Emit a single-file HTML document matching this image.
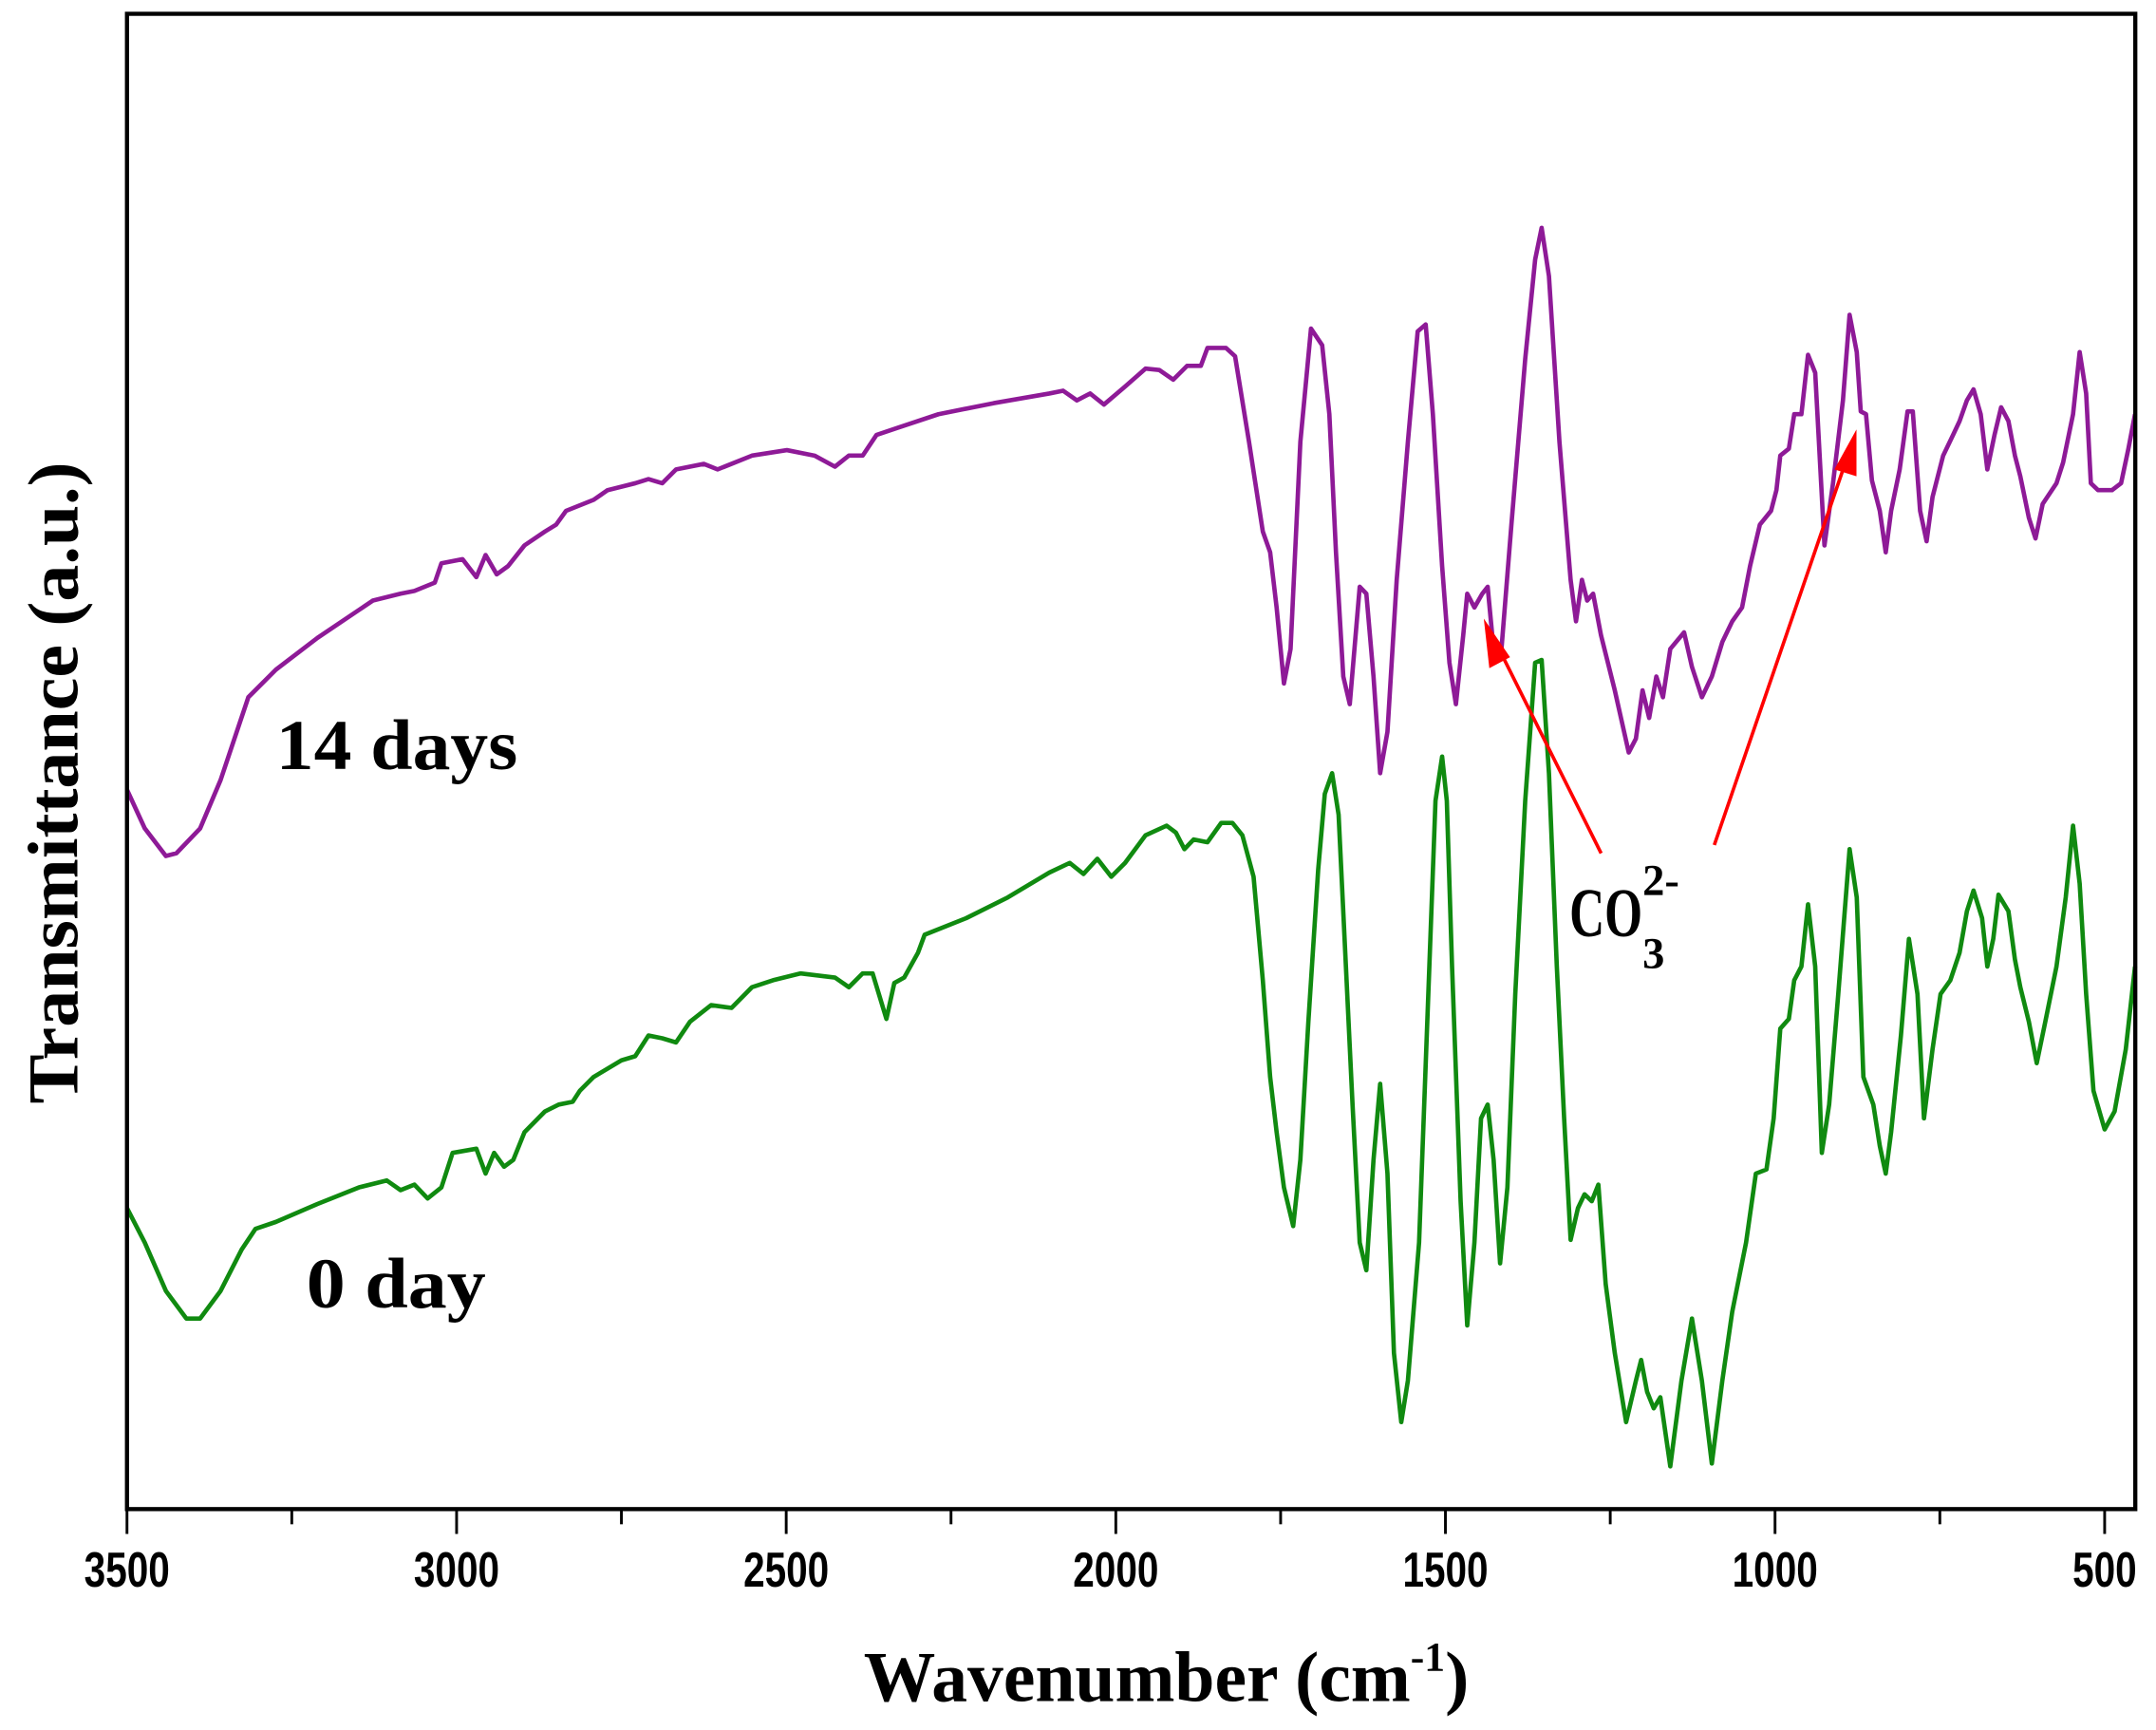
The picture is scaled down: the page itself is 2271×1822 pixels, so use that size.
<!DOCTYPE html>
<html><head><meta charset="utf-8"><style>
html,body{margin:0;padding:0;background:#fff;}
svg{display:block;}
</style></head><body>
<svg id="chart" xmlns="http://www.w3.org/2000/svg" width="2271" height="1822" viewBox="0 0 1562 1253" preserveAspectRatio="none">
<rect x="0" y="0" width="1562" height="1253" fill="#fff"/>
<g id="plot"></g>
<rect x="92" y="10" width="1455" height="1083" fill="none" stroke="#000" stroke-width="3"/>
<g id="xaxis"></g>
<text x="845" y="1232" text-anchor="middle" font-family="Liberation Serif, serif" font-weight="bold" font-size="52">Wavenumber (cm<tspan dy="-22" font-size="30">-1</tspan><tspan dy="22">)</tspan></text>
<text transform="translate(56,567) rotate(-90)" text-anchor="middle" font-family="Liberation Serif, serif" font-weight="bold" font-size="52" textLength="465" lengthAdjust="spacingAndGlyphs">Transmittance (a.u.)</text>
<text x="200" y="557" font-family="Liberation Serif, serif" font-weight="bold" font-size="52" textLength="175" lengthAdjust="spacingAndGlyphs">14 days</text>
<text x="222" y="947" font-family="Liberation Serif, serif" font-weight="bold" font-size="52" textLength="130" lengthAdjust="spacingAndGlyphs">0 day</text>
<g>
<text x="1137" y="678" font-family="Liberation Serif, serif" font-weight="bold" font-size="50" textLength="53" lengthAdjust="spacingAndGlyphs">CO</text>
<text x="1190" y="701" font-family="Liberation Serif, serif" font-weight="bold" font-size="32">3</text>
<text x="1190" y="648" font-family="Liberation Serif, serif" font-weight="bold" font-size="32">2-</text>
<line x1="1160" y1="618" x2="1086" y2="470" stroke="#f00" stroke-width="2.5"/>
<polygon points="1075,448 1079,484 1094,476" fill="#f00"/>
<line x1="1242" y1="612" x2="1337" y2="335" stroke="#f00" stroke-width="2.5"/>
<polygon points="1345,311 1329,340 1345,345" fill="#f00"/>
</g>
</svg>
<script>
const xTicks = [3500, 3000, 2500, 2000, 1500, 1000, 500];
const xMinorTicks = [3250, 2750, 2250, 1750, 1250, 750];
const wn14 = [3500,3473,3441,3425,3389,3358,3316,3274,3211,3127,3085,3064,3033,3023,2991,2970,2956,2939,2922,2897,2866,2849,2834,2792,2771,2729,2709,2688,2667,2625,2604,2552,2499,2457,2426,2405,2384,2363,2332,2269,2185,2101,2080,2059,2039,2018,1986,1955,1934,1913,1892,1871,1861,1833,1819,1798,1777,1766,1756,1745,1735,1720,1704,1687,1676,1666,1655,1645,1630,1620,1609,1599,1588,1574,1557,1542,1530,1519,1505,1494,1484,1473,1467,1456,1444,1436,1425,1415,1400,1379,1364,1354,1343,1327,1310,1302,1293,1285,1276,1264,1243,1222,1211,1201,1191,1180,1170,1159,1138,1126,1111,1096,1080,1065,1050,1038,1023,1006,998,992,979,971,960,950,939,925,912,897,887,876,870,862,853,841,832,824,811,799,791,780,770,761,745,730,720,709,699,688,678,667,657,646,636,628,615,605,594,573,563,548,538,528,521,510,489,475,464,454];
const t14 = [52.1,49.3,47.3,47.5,49.3,52.8,58.8,60.8,63.1,65.8,66.3,66.5,67.1,68.5,68.8,67.5,69.1,67.7,68.3,69.8,70.8,71.3,72.3,73.1,73.8,74.3,74.6,74.3,75.3,75.7,75.3,76.3,76.7,76.3,75.5,76.3,76.3,77.8,78.3,79.3,80.1,80.8,81.0,80.3,80.8,80.0,81.3,82.6,82.5,81.8,82.8,82.8,84.1,84.1,83.5,77.3,70.8,69.3,65.3,59.8,62.3,77.3,85.5,84.3,79.3,69.3,60.3,58.3,66.8,66.3,60.3,53.3,56.3,67.3,77.3,85.3,85.8,79.3,68.3,61.3,58.3,63.3,66.3,65.3,66.3,66.8,61.3,62.3,71.3,83.3,90.5,92.8,89.3,77.3,67.3,64.3,67.3,65.8,66.3,63.3,59.3,54.8,55.8,59.3,57.3,60.3,58.8,62.3,63.5,61.0,58.8,60.3,62.8,64.3,65.3,68.3,71.3,72.3,73.8,76.3,76.8,79.3,79.3,83.6,82.3,69.8,74.3,80.3,86.5,83.8,79.5,79.3,74.5,72.3,69.3,72.3,75.3,79.5,79.5,72.3,70.1,73.3,76.3,77.8,78.8,80.3,81.1,79.3,75.3,77.8,79.8,78.8,76.3,74.8,71.8,70.3,72.8,74.3,75.8,79.3,83.8,80.8,74.3,73.8,73.8,74.3,76.8,79.3];
const wn0 = [3500,3473,3441,3410,3389,3358,3326,3305,3274,3211,3148,3106,3085,3064,3044,3023,3006,2970,2956,2943,2928,2914,2897,2866,2845,2824,2813,2792,2750,2729,2709,2688,2667,2646,2614,2583,2552,2520,2478,2426,2405,2384,2369,2348,2336,2321,2300,2290,2227,2164,2101,2070,2049,2028,2007,1986,1955,1923,1909,1896,1882,1861,1840,1823,1808,1791,1777,1766,1756,1745,1731,1720,1708,1693,1683,1672,1662,1651,1641,1630,1620,1609,1599,1588,1578,1567,1557,1540,1526,1515,1505,1498,1490,1477,1467,1456,1446,1436,1427,1417,1406,1394,1379,1364,1354,1343,1331,1320,1310,1299,1289,1278,1268,1257,1243,1226,1211,1203,1194,1184,1174,1159,1142,1126,1111,1096,1080,1065,1044,1029,1013,1002,992,979,971,960,950,939,929,918,904,887,876,866,851,841,832,824,809,797,784,774,761,749,734,720,709,699,686,678,669,661,646,636,628,615,603,590,573,559,548,538,528,517,500,485,468,454];
const t0 = [21.8,19.3,15.8,13.8,13.8,15.8,18.8,20.3,20.8,22.1,23.3,23.8,23.1,23.5,22.5,23.3,25.8,26.1,24.3,25.8,24.8,25.3,27.3,28.8,29.3,29.5,30.3,31.3,32.5,32.8,34.3,34.1,33.8,35.3,36.5,36.3,37.8,38.3,38.8,38.5,37.8,38.8,38.8,35.5,38.1,38.5,40.3,41.6,42.8,44.3,46.1,46.8,46.0,47.1,45.8,46.8,48.8,49.5,49.0,47.8,48.5,48.3,49.7,49.7,48.8,45.8,38.3,31.3,27.3,23.3,20.5,25.3,35.3,46.3,51.8,53.3,50.3,39.3,29.3,19.3,17.3,25.3,30.8,24.3,11.3,6.3,9.3,19.3,37.3,51.3,54.5,51.3,39.3,22.3,13.3,19.3,28.3,29.3,25.3,17.8,23.3,37.3,51.3,61.3,61.5,53.3,39.3,28.3,19.5,21.8,22.8,22.3,23.5,16.3,11.3,6.3,9.3,10.8,8.5,7.3,8.1,3.1,9.3,13.8,9.3,3.3,9.3,14.3,19.3,24.3,24.6,28.3,34.8,35.5,38.3,39.3,43.8,39.3,25.8,29.3,37.3,47.8,44.3,31.3,29.3,26.3,24.3,27.3,34.3,41.3,37.3,28.3,33.3,37.3,38.3,40.3,43.3,44.8,42.8,39.3,41.3,44.5,43.3,39.8,37.8,35.3,32.3,35.3,39.3,44.3,49.5,45.3,37.3,30.3,27.5,28.8,33.3,39.3];

const NS = 'http://www.w3.org/2000/svg';
const X0 = 92, XPX = 0.4776, Y0 = 1093, YPX = 10;
function xScale(w){ return X0 + (3500 - w) * XPX; }
function yScale(v){ return Y0 - v * YPX; }

const plot = document.getElementById('plot');
function drawSeries(wn, t, color, name){
  let d = '';
  for (let i = 0; i < wn.length; i++){
    d += (i ? 'L' : 'M') + xScale(wn[i]).toFixed(1) + ',' + yScale(t[i]).toFixed(1);
  }
  const p = document.createElementNS(NS, 'path');
  p.setAttribute('d', d);
  p.setAttribute('fill', 'none');
  p.setAttribute('stroke', color);
  p.setAttribute('stroke-width', '3.2');
  p.setAttribute('stroke-linejoin', 'round');
  
  
  plot.appendChild(p);
}
drawSeries(wn14, t14, '#8e1a97', 'series-14-days');
drawSeries(wn0, t0, '#108a10', 'series-0-day');

const xa = document.getElementById('xaxis');
xTicks.forEach(w => {
  const l = document.createElementNS(NS, 'line');
  l.setAttribute('x1', xScale(w)); l.setAttribute('x2', xScale(w));
  l.setAttribute('y1', Y0); l.setAttribute('y2', Y0 + 18);
  l.setAttribute('stroke', '#000'); l.setAttribute('stroke-width', '2');
  
  
  xa.appendChild(l);
  const t = document.createElementNS(NS, 'text');
  t.setAttribute('x', xScale(w)); t.setAttribute('y', Y0 + 56);
  t.setAttribute('text-anchor', 'middle');
  t.setAttribute('font-family', 'Liberation Sans, Arial, sans-serif');
  t.setAttribute('font-weight', 'bold');
  t.setAttribute('font-size', '36');
  t.setAttribute('textLength', String(w).length * 15.5);
  t.setAttribute('lengthAdjust', 'spacingAndGlyphs');
  
  
  t.textContent = w;
  xa.appendChild(t);
});
xMinorTicks.forEach(w => {
  const l = document.createElementNS(NS, 'line');
  l.setAttribute('x1', xScale(w)); l.setAttribute('x2', xScale(w));
  l.setAttribute('y1', Y0); l.setAttribute('y2', Y0 + 11);
  l.setAttribute('stroke', '#000'); l.setAttribute('stroke-width', '2');
  
  
  xa.appendChild(l);
});
</script>
</body></html>
